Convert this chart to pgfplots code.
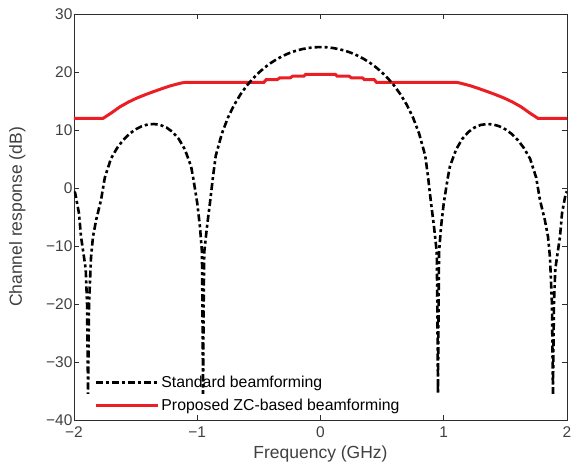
\documentclass[border=0pt]{standalone}
\usepackage{fontspec}
\setmainfont{Liberation Sans}
\usepackage{pgfplots}
\pgfplotsset{compat=1.18}
\definecolor{zcred}{RGB}{235,30,35}
\definecolor{axgray}{RGB}{45,45,45}
\definecolor{txtgray}{RGB}{64,64,64}
\begin{document}
\begin{tikzpicture}
\begin{axis}[
 scale only axis, width=493pt, height=406pt,
 xmin=-2, xmax=2, ymin=-40, ymax=30,
 xtick={-2,-1,0,1,2}, xticklabels={−2,−1,0,1,2},
 ytick={-40,-30,-20,-10,0,10,20,30}, yticklabels={−40,−30,−20,−10,0,10,20,30},
 tick align=inside, major tick length=5pt,
 axis line style={axgray, line width=0.6pt},
 every tick/.style={axgray, line width=0.6pt},
 ticklabel style={font=\fontsize{15.5}{18}\selectfont, text=txtgray},
 yticklabel style={xshift=2pt},
 xticklabel style={yshift=-3pt},
 label style={font=\fontsize{17.5}{20}\selectfont, text=txtgray},
 xlabel={Frequency (GHz)}, ylabel={Channel response (dB)},
 xlabel style={at={(axis description cs:0.5,-0.083)}, anchor=center},
 ylabel style={at={(axis description cs:-0.115,0.5)}, anchor=center},
 legend style={draw=none, fill=none, at={(0.035,0.01)}, anchor=south west,
   font=\fontsize{15.8}{18}\selectfont, text=black, row sep=6pt},
 legend cell align=left, reverse legend,
 legend image code/.code={\draw[#1] (0pt,0pt) -- (62pt,0pt);},
]
\addplot[zcred, line width=3pt] coordinates {
(-2,12) (-1.765,12) (-1.70,12.9) (-1.627,14.0) (-1.56,14.8) (-1.491,15.5) (-1.42,16.1)
(-1.357,16.6) (-1.29,17.1) (-1.221,17.6) (-1.167,17.9) (-1.13,18.1) (-1.1,18.2)
(-0.46,18.2) (-0.44,18.7) (-0.35,18.7) (-0.33,19.0) (-0.245,19.0) (-0.225,19.3)
(-0.135,19.3) (-0.12,19.6) (0.12,19.6) (0.135,19.3) (0.23,19.3) (0.25,19.0)
(0.34,19.0) (0.355,18.7) (0.435,18.7) (0.455,18.2) (1.107,18.2) (1.13,18.1)
(1.167,17.9) (1.221,17.6) (1.29,17.1) (1.357,16.6) (1.42,16.1) (1.491,15.5)
(1.56,14.8) (1.627,14.0) (1.70,12.9) (1.765,12) (2,12)
};
\addlegendentry{Proposed ZC-based beamforming}
\addplot[black, line width=2.6pt, dash pattern=on 7pt off 3pt on 3pt off 3pt] coordinates {
(-2.0,-0.6) (-1.99,-0.9) (-1.96,-4.3) (-1.943,-8.4) (-1.919,-11.9) (-1.905,-14)
(-1.894,-20) (-1.886,-35.5) (-1.878,-20) (-1.862,-12) (-1.846,-8.4) (-1.82,-5.5)
(-1.78,-2) (-1.75,1.8) (-1.7,5.07) (-1.65,6.90) (-1.6,8.29) (-1.55,9.34)
(-1.5,10.12) (-1.45,10.65) (-1.4,10.96) (-1.35,11.03) (-1.3,10.87) (-1.25,10.43)
(-1.2,9.66) (-1.15,8.46) (-1.1,6.63) (-1.05,3.72) (-1.034,1.9) (-1.0,-2.6)
(-0.978,-6.7) (-0.962,-11) (-0.958,-20) (-0.953,-35.5) (-0.948,-20) (-0.943,-11)
(-0.921,-6.7) (-0.897,-2.6) (-0.872,2.0) (-0.85,5.55) (-0.8,9.40) (-0.75,12.18)
(-0.7,14.35) (-0.65,16.11) (-0.6,17.59) (-0.55,18.83) (-0.5,19.90) (-0.45,20.82)
(-0.4,21.60) (-0.35,22.27) (-0.3,22.83) (-0.25,23.29) (-0.2,23.66) (-0.15,23.94)
(-0.1,24.14) (-0.05,24.26) (0,24.3)
(0.05,24.26) (0.1,24.14) (0.15,23.94) (0.2,23.66) (0.25,23.29) (0.3,22.83)
(0.35,22.27) (0.4,21.60) (0.45,20.82) (0.5,19.90) (0.55,18.83) (0.6,17.59)
(0.65,16.11) (0.7,14.35) (0.75,12.18) (0.8,9.40) (0.85,5.55) (0.872,2.0)
(0.897,-2.6) (0.921,-6.7) (0.943,-11) (0.948,-20) (0.953,-35.5) (0.958,-20)
(0.962,-11) (0.978,-6.7) (1.0,-2.6) (1.034,1.9) (1.05,3.72) (1.1,6.63)
(1.15,8.46) (1.2,9.66) (1.25,10.43) (1.3,10.87) (1.35,11.03) (1.4,10.96)
(1.45,10.65) (1.5,10.12) (1.55,9.34) (1.6,8.29) (1.65,6.90) (1.7,5.07)
(1.75,1.8) (1.78,-2) (1.82,-5.5) (1.846,-8.4) (1.862,-12) (1.878,-20)
(1.886,-35.5) (1.894,-20) (1.905,-14) (1.919,-11.9) (1.943,-8.4) (1.96,-4.3)
(1.99,-0.9) (2.0,-0.6)
};
\addlegendentry{Standard beamforming}
\end{axis}
\pgfresetboundingbox
\path ([shift={(-74pt,-47pt)}]current axis.south west) rectangle ([shift={(6pt,14pt)}]current axis.north east);
\end{tikzpicture}
\end{document}
